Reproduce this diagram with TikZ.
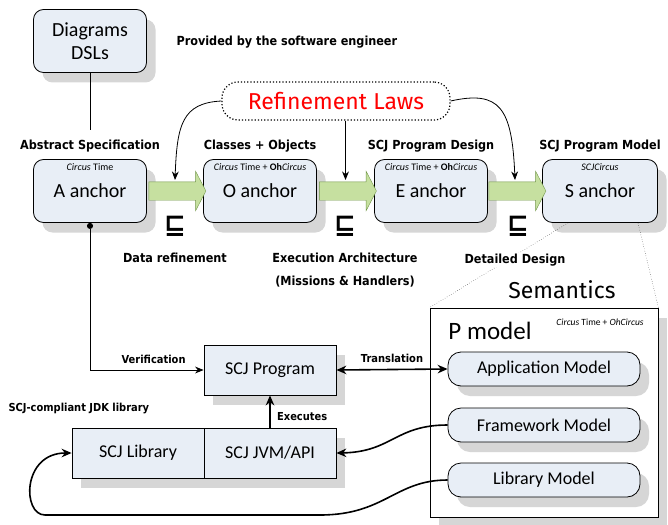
\documentclass[tikz,border=0pt]{standalone}
\usepackage{amsmath,amssymb}
\usepackage{fontspec}
\usepackage{tikz}
\usetikzlibrary{arrows.meta,positioning,calc,shadows,shapes.arrows}
\setmainfont{Carlito}
\newfontfamily\labelfont{DejaVu Sans Condensed}
\newfontfamily\symfont{DejaVu Sans}
\newfontfamily\handfont{Fira Sans}
\definecolor{boxgray}{RGB}{232,238,246}
\definecolor{shadegray}{RGB}{214,214,214}
\definecolor{refgreen}{RGB}{198,224,160}
\definecolor{refgreenline}{RGB}{112,150,72}
\definecolor{lawred}{RGB}{255,0,0}

\begin{document}
\begin{tikzpicture}[x=1pt,y=-1pt,
  shade/.style={drop shadow={shadow xshift=9pt,shadow yshift=-10pt,fill=shadegray,opacity=1}},
  stage/.style={draw,thick,rounded corners=10pt,fill=boxgray,minimum width=113pt,minimum height=63pt,align=center,font=\fontsize{20}{23}\selectfont,shade},
  plain/.style={draw,thick,fill=boxgray,minimum width=132pt,minimum height=50pt,font=\fontsize{18}{20}\selectfont,shade},
  pill/.style={draw,thick,rounded corners=13pt,fill=boxgray,minimum width=192pt,minimum height=34pt,font=\fontsize{18}{20}\selectfont,shade},
  tag/.style={font=\fontsize{10}{11}\selectfont,inner sep=1pt},
  caption/.style={font=\labelfont\bfseries\fontsize{12.5}{23}\selectfont,align=center},
  small/.style={font=\labelfont\bfseries\fontsize{11}{12}\selectfont},
  refine/.style={single arrow,draw=refgreenline,fill=refgreen,inner xsep=0pt,inner ysep=9pt,minimum height=57pt,single arrow head extend=10.5pt,single arrow tip angle=125},
  sqs/.style={font=\symfont\bfseries\fontsize{26}{26}\selectfont,inner sep=0pt},
  arrow/.style={-{Stealth[length=3mm,width=2.4mm]},thick},
  fat/.style={-{Stealth[length=3.5mm,width=3mm]},line width=1.6pt}
]
\useasboundingbox (0,0) rectangle (668,524);

\node[stage] (dsl) at (90,41) {Diagrams\\DSLs};
\node[caption,anchor=west] (who) at (173,42) {Provided by the software engineer};

\node[stage] (A) at (90,191) {A anchor};
\node[stage] (O) at (260,191) {O anchor};
\node[stage] (E) at (431,191) {E anchor};
\node[stage,minimum width=115pt] (S) at (600,191) {S anchor};

\node[tag,anchor=north] at ([yshift=-3pt]A.north) {\textit{Circus} Time};
\node[tag,anchor=north] at ([yshift=-3pt]O.north) {\textit{Circus} Time + \textbf{Oh}\textit{Circus}};
\node[tag,anchor=north] at ([yshift=-3pt]E.north) {\textit{Circus} Time + \textbf{Oh}\textit{Circus}};
\node[tag,anchor=north] at ([yshift=-3pt]S.north) {\textit{SCJCircus}};

\node[caption,above=3pt of A] {Abstract Specification};
\node[caption,above=3pt of O] {Classes + Objects};
\node[caption,above=3pt of E] {SCJ Program Design};
\node[caption,above=3pt of S] {SCJ Program Model};

\node[refine] (ar1) at ($(A.east)!0.5!(O.west)$) {};
\node[refine] (ar2) at ($(O.east)!0.5!(E.west)$) {};
\node[refine] (ar3) at ($(E.east)!0.5!(S.west)$) {};

\node[sqs] at (175,226) {⊑};
\node[sqs] at (345,226) {⊑};
\node[sqs] at (518,226) {⊑};

\node[caption] (datar) at (175,258) {Data refinement};
\node[caption] (exec) at (345,270) {Execution Architecture\\(Missions \& Handlers)};

\node[draw,dotted,line width=1.2pt,rounded corners=16pt,minimum width=228pt,minimum height=38pt,text=lawred,font=\handfont\fontsize{23}{25}\selectfont] (laws) at (336,101) {Refinement Laws};

\draw (dsl.south) -- (A.north |- 0,130);
\draw[arrow] (laws.west) .. controls (182,103) and (177,125) .. ([yshift=11pt]ar1.center);
\draw[arrow] (laws.south -| ar2.center) -- ([yshift=11pt]ar2.center);
\draw[arrow] (laws.east) .. controls (500,90) and (512,108) .. ([yshift=11pt]ar3.center);

\node[draw,thick,fill=white,minimum width=228pt,minimum height=209pt,shade] (pmodel) at (544,412.5) {};
\node[font=\fontsize{25}{27}\selectfont] (ptitle) at (490,331) {P model};
\node[tag,font=\fontsize{9.5}{10}\selectfont\itshape] at (600,322) {Circus \upshape Time + \itshape OhCircus};
\node[font=\handfont\fontsize{23}{25}\selectfont] (sem) at (562,290) {Semantics};

\draw[dotted] (S.225) -- (pmodel.north west);
\draw[dotted] (S.-40) -- (pmodel.north east);
\node[caption,fill=white,inner sep=1pt] (dd) at (515,260) {Detailed Design};

\node[pill] (app) at (544,369) {Application Model};
\node[pill] (fw) at (544,425) {Framework Model};
\node[pill] (libm) at (544,480) {Library Model};

\node[plain] (prog) at (270,370) {SCJ Program};
\node[plain] (scjlib) at (138,453) {SCJ Library};
\node[plain] (jvm) at (270,453) {SCJ JVM/API};
\node[small,anchor=west] (jdk) at (5,409) {SCJ-compliant JDK library};

\draw[arrow,{Circle[length=6pt]}-{Stealth[length=3mm,width=2.4mm]}] (A.south) |- (prog.west) node[small,pos=0.78,above=3pt] {Verification};
\draw[fat] (jvm.north) -- (prog.south) node[small,midway,right=3pt,yshift=-5pt] {Executes};
\draw[fat,{Stealth[length=3.5mm,width=3mm]}-{Stealth[length=3.5mm,width=3mm]}] (prog.east) -- (app.west) node[small,midway,above=3pt] {Translation};
\draw[fat] (fw.west) .. controls (395,425) and (392,452) .. (jvm.east);
\draw[fat] (libm.west) .. controls (395,480) and (385,515) .. (320,515) -- (45,515) .. controls (22,515) and (22,453) .. (scjlib.west);
\end{tikzpicture}
\end{document}
